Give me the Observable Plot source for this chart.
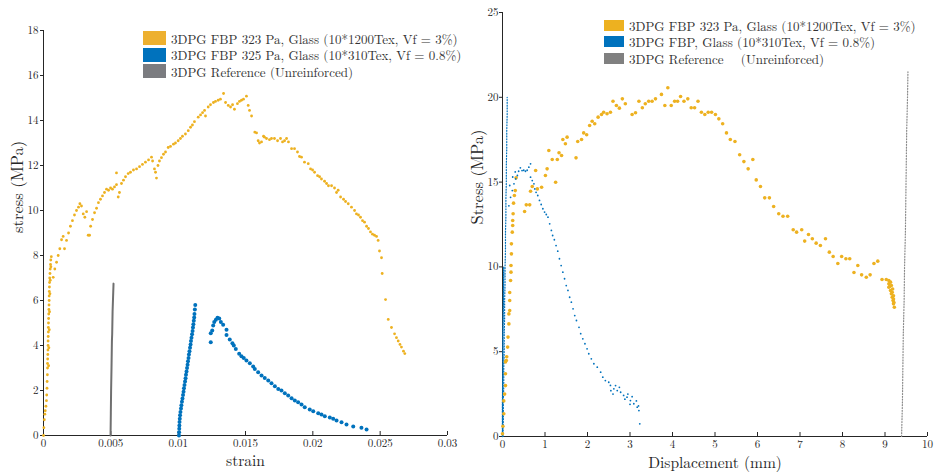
<!DOCTYPE html>
<html>
<head>
<meta charset="utf-8">
<script src="https://cdn.jsdelivr.net/npm/d3@7"></script>
<script src="https://cdn.jsdelivr.net/npm/@observablehq/plot@0.6"></script>
<style>
  html, body { margin: 0; padding: 0; background: #fff; }
  #wrap { position: relative; width: 934px; height: 474px; display: flex; }
  .panel { position: relative; width: 467px; height: 474px; }
  .panel svg { background: transparent !important; }
  .legend { position: absolute; z-index: 10; font-family: "Latin Modern Roman", "CMU Serif", "Liberation Serif", serif; font-size: 13px; line-height: 15px; color: #333; white-space: pre; }
  .legend .row { display: flex; align-items: center; height: 16.6px; }
  .legend .sw { display: inline-block; margin-right: 5px; }
</style>
</head>
<body>
<div id="wrap">
  <div class="panel" id="left"></div>
  <div class="panel" id="right"></div>
</div>
<script>
// ---------- LEFT PANEL DATA (strain, stress MPa) ----------
const leftYellow = [
  [0,0],[0.00003,0.35],[0.00006,0.7],[0.0001,0.95],[0.00013,1.1],[0.00018,1.3],[0.00022,1.55],[0.00024,1.8],
  [0.00026,2.1],[0.00027,2.4],[0.00029,2.7],[0.0003,3.0],[0.0003,3.2],[0.00031,3.4],[0.00032,3.6],[0.00033,3.8],
  [0.00034,4.0],[0.00034,4.2],[0.00035,4.4],[0.00036,4.6],[0.00036,4.8],[0.00037,5.0],[0.00038,5.2],[0.00039,5.4],
  [0.0004,5.6],[0.00041,5.8],[0.00042,6.0],[0.00042,6.2],[0.00043,6.4],[0.00044,6.6],[0.00045,6.8],[0.00046,7.0],
  [0.00048,7.2],[0.0005,7.4],[0.00052,7.6],[0.00054,7.8],[0.00058,7.95],
  [0.00038,3.1],[0.0004,3.9],[0.00043,4.7],[0.00045,5.5],[0.00048,6.3],[0.0005,6.9],[0.00055,7.5],
  [0.00072,7.03],[0.00084,7.4],[0.00097,7.7],[0.00109,8.0],[0.00121,8.3],[0.00134,8.7],[0.00146,8.85],[0.00156,8.3],
  [0.00171,8.67],[0.00186,9.0],[0.002,9.3],[0.00215,9.55],[0.0023,9.8],[0.00245,10.0],[0.0026,10.15],[0.0027,10.3],
  [0.00282,10.2],[0.00295,9.85],[0.00307,9.7],[0.0032,9.95],[0.00332,8.9],[0.00342,8.9],
  [0.0035,9.3],[0.00364,9.6],[0.00379,9.9],[0.00394,10.1],[0.00408,10.35],[0.00423,10.5],[0.00438,10.65],[0.00453,10.8],
  [0.00468,10.95],[0.00483,10.9],[0.00498,11.0],[0.00512,10.95],[0.00527,11.05],[0.00542,11.15],[0.00542,11.67],
  [0.00555,10.6],[0.00564,10.8],[0.00579,11.2],[0.00594,11.35],[0.00609,11.5],[0.00629,11.64],[0.00646,11.7],
  [0.00668,11.8],[0.00691,11.85],[0.00713,11.95],[0.00735,12.05],[0.00757,12.15],[0.0078,12.25],[0.00802,12.37],
  [0.0081,12.2],[0.00824,11.85],[0.00832,11.7],[0.00839,11.44],[0.0085,12.0],[0.00861,12.2],[0.00876,12.35],
  [0.00891,12.5],[0.00906,12.6],[0.00926,12.8],[0.00943,12.85],[0.00965,12.95],[0.0098,13.0],[0.01,13.1],
  [0.01017,13.2],[0.01032,13.3],[0.01054,13.4],[0.01075,13.55],[0.01092,13.7],[0.01106,13.8],[0.01121,13.95],
  [0.01149,14.15],[0.01166,14.25],[0.01181,14.35],[0.01196,14.45],[0.01203,14.2],[0.01223,14.6],[0.0124,14.7],
  [0.01262,14.8],[0.01277,14.85],[0.01297,14.9],[0.01314,14.95],[0.01337,15.2],[0.01352,14.8],[0.01372,14.67],
  [0.01389,14.6],[0.01404,14.7],[0.01418,14.5],[0.0144,14.75],[0.01455,14.85],[0.0147,14.9],[0.01485,14.95],
  [0.01507,15.08],[0.0152,14.67],[0.0153,14.45],[0.01545,14.2],
  [0.01569,13.48],[0.01582,13.45],[0.01594,13.1],[0.01604,13.0],[0.01619,13.05],[0.01634,13.3],[0.01641,13.26],
  [0.01656,13.2],[0.01678,13.15],[0.01693,13.2],[0.01715,13.2],[0.01738,13.1],[0.0176,13.2],[0.01775,13.05],
  [0.0179,13.1],[0.01805,13.2],[0.01819,13.05],[0.01842,12.75],[0.01864,12.75],[0.01886,12.6],[0.01901,12.4],
  [0.01916,12.37],[0.01938,12.15],[0.01966,12.08],[0.01983,11.85],[0.01998,11.8],[0.02013,11.7],[0.02035,11.55],
  [0.0205,11.5],[0.02064,11.4],[0.02087,11.3],[0.02102,11.2],[0.02116,11.1],[0.02139,11.1],[0.02161,11.0],
  [0.02176,10.8],[0.02188,10.9],[0.02206,10.6],[0.02228,10.5],[0.02243,10.4],[0.02263,10.3],[0.02287,10.15],
  [0.0231,10.0],[0.02324,9.85],[0.02339,9.8],[0.02354,9.7],[0.02369,9.55],[0.02384,9.48],[0.02399,9.3],
  [0.02413,9.2],[0.02428,9.05],[0.02443,8.95],[0.02458,8.9],[0.02473,8.85],[0.02485,8.67],[0.02495,8.2],
  [0.0251,7.9],[0.02515,7.2],[0.0254,6.04],[0.0256,5.16],[0.02584,4.8],[0.02607,4.52],[0.02621,4.35],
  [0.02634,4.2],[0.02647,4.05],[0.02658,3.93],[0.02673,3.75],[0.02683,3.64]
];
const leftBlue = [
  [0.01006,0],[0.01007,0.15],[0.01008,0.3],[0.01009,0.45],[0.0101,0.6],[0.01012,0.75],[0.01014,0.9],[0.01017,1.05],
  [0.01021,1.2],[0.01024,1.35],[0.01028,1.5],[0.01032,1.65],[0.01036,1.8],[0.0104,1.95],[0.01043,2.1],[0.01047,2.25],
  [0.01051,2.4],[0.01055,2.55],[0.01058,2.7],[0.01062,2.85],[0.01066,3.0],[0.0107,3.15],[0.01073,3.3],[0.01077,3.45],
  [0.0108,3.6],[0.01084,3.75],[0.01088,3.9],[0.01092,4.05],[0.01095,4.2],[0.01099,4.35],[0.01103,4.5],[0.01107,4.65],
  [0.0111,4.8],[0.01113,4.95],[0.01116,5.1],[0.01119,5.25],[0.01121,5.4],[0.01124,5.6],[0.01127,5.8],
  [0.01242,4.15],[0.01242,4.55],[0.01253,4.67],[0.0126,4.89],[0.01268,5.04],[0.0128,5.14],[0.01292,5.23],
  [0.01305,5.2],[0.01317,5.04],[0.01334,4.92],[0.01359,4.7],[0.01359,4.47],[0.01383,4.27],[0.01403,4.1],
  [0.01413,4.0],[0.01428,3.85],[0.01453,3.63],[0.0147,3.52],[0.01487,3.44],[0.01507,3.33],[0.01532,3.21],
  [0.01557,3.07],[0.01569,2.96],[0.01594,2.81],[0.01619,2.67],[0.01643,2.56],[0.01669,2.44],[0.01693,2.32],
  [0.01718,2.19],[0.01743,2.07],[0.01767,2.0],[0.01792,1.88],[0.01817,1.78],[0.01842,1.66],[0.01866,1.56],
  [0.01891,1.48],[0.01916,1.38],[0.0194,1.26],[0.01977,1.16],[0.02003,1.08],[0.0204,0.99],[0.02064,0.93],
  [0.02089,0.86],[0.02126,0.8],[0.02151,0.74],[0.02176,0.67],[0.02213,0.59],[0.0225,0.49],[0.023,0.4],
  [0.02361,0.34],[0.02399,0.27]
];
const leftGray = [[0.00498,0],[0.005,1],[0.00502,2],[0.00505,3],[0.00508,4.2],[0.0051,4.5],[0.00513,5.5],[0.0052,6.75]];
const leftXTicks = [0, 0.005, 0.01, 0.015, 0.02, 0.025, 0.03];
const leftYTicks = [0, 2, 4, 6, 8, 10, 12, 14, 16, 18];
const leftLegendLabels = [
  "3DPG FBP 323 Pa, Glass (10*1200Tex, Vf = 3%)",
  "3DPG FBP 325 Pa, Glass (10*310Tex, Vf = 0.8%)",
  "3DPG Reference (Unreinforced)"
];

// ---------- RIGHT PANEL DATA (displacement mm, stress MPa) ----------
const rightYellow = [
  [0,0.16],[0.01,0.6],[0.03,1.34],[0.03,2.1],[0.05,2.5],[0.07,3.0],[0.07,3.7],[0.07,4.4],[0.09,4.48],[0.1,4.7],
  [0.12,5.27],[0.13,5.86],[0.15,6.64],[0.15,7.23],[0.17,7.43],[0.17,8.02],[0.17,8.49],[0.19,9.2],[0.2,9.69],
  [0.2,10.08],[0.21,10.77],[0.21,11.36],[0.23,12.05],[0.24,12.44],[0.24,12.74],[0.25,13.13],[0.26,13.76],
  [0.28,14.21],[0.3,14.5],[0.32,15.25],[0.52,13.27],[0.56,13.66],[0.64,13.66],[0.66,14.46],[0.7,14.74],
  [0.78,15.68],[0.82,14.6],[0.92,14.7],[1.01,15.39],[1.05,15.78],[1.09,16.86],[1.17,16.33],[1.25,14.99],
  [1.29,16.33],[1.33,16.73],[1.39,16.57],[1.42,17.51],[1.48,17.26],[1.52,17.65],[1.73,16.43],[1.77,17.39],
  [1.86,17.51],[1.91,17.9],[1.98,17.79],[2.05,18.34],[2.11,18.59],[2.17,18.44],[2.25,18.83],[2.33,18.99],
  [2.38,19.12],[2.46,19.03],[2.54,19.12],[2.6,19.77],[2.68,19.52],[2.75,19.36],[2.82,19.91],[2.89,19.62],
  [3.05,18.99],[3.13,19.09],[3.21,19.77],[3.29,19.38],[3.36,19.62],[3.44,19.77],[3.52,19.77],[3.6,19.91],
  [3.74,20.17],[3.82,19.52],[3.89,20.56],[3.97,19.52],[4.05,19.77],[4.12,19.77],[4.19,20.05],[4.27,19.77],
  [4.36,19.91],[4.44,19.38],[4.52,19.38],[4.6,19.77],[4.68,19.12],[4.76,18.99],[4.84,19.12],[4.92,19.12],
  [5.01,18.99],[5.09,18.73],[5.18,18.44],[5.27,17.9],[5.36,17.51],[5.47,17.39],[5.58,16.61],[5.68,16.21],
  [5.78,15.78],[5.89,16.33],[5.97,15.13],[6.07,14.74],[6.17,14.07],[6.28,14.07],[6.38,13.56],[6.5,13.13],
  [6.6,12.99],[6.71,12.99],[6.84,12.19],[6.92,12.05],[7.04,12.19],[7.11,11.52],[7.2,11.91],[7.29,11.66],
  [7.38,11.4],[7.48,11.26],[7.6,11.66],[7.69,10.87],[7.78,10.61],[7.89,10.2],[7.98,10.61],[8.08,10.48],
  [8.17,10.48],[8.27,9.67],[8.36,10.08],[8.45,9.53],[8.56,9.39],[8.65,9.53],[8.74,10.2],[8.83,10.34],
  [8.93,9.26],[9.03,9.26],[9.09,9.2],[9.09,9.0],[9.11,8.84],[9.13,8.61],[9.15,8.41],[9.17,8.21],[9.19,8.02],
  [9.2,7.82],[9.22,7.62],[9.09,8.8],[9.15,8.9],[9.17,8.5],[9.2,8.3],[9.2,8.1],[9.13,9.1],[9.18,8.7],[9.21,7.9]
];
const rightBlue = [
  [0.19,14.1],[0.23,14.5],[0.27,14.9],[0.31,15.19],[0.35,15.39],[0.38,15.64],[0.42,15.84],[0.46,15.68],[0.5,15.7],
  [0.54,15.64],[0.58,15.7],[0.62,15.88],[0.66,16.08],[0.66,15.29],[0.7,15.09],[0.74,14.9],[0.76,14.6],[0.79,14.4],
  [0.83,14.21],[0.87,13.92],[0.91,13.68],[0.95,13.43],[0.99,13.23],[1.03,13.09],[1.07,12.93],[1.11,12.54],
  [1.15,12.15],[1.18,11.85],[1.22,11.6],[1.26,11.26],[1.3,10.93],[1.34,10.48],[1.38,10.08],[1.42,9.69],[1.46,9.3],
  [1.5,8.9],[1.54,8.61],[1.58,8.21],[1.62,7.92],[1.66,7.53],[1.7,7.13],[1.74,6.84],[1.8,6.44],[1.84,6.06],
  [1.89,5.76],[1.94,5.47],[1.99,5.17],[2.03,4.88],[2.09,4.58],[2.15,4.29],[2.23,4.09],[2.31,3.79],[2.36,3.5],
  [2.42,3.3],[2.5,3.2],[2.54,3.01],[2.62,2.81],[2.7,2.71],[2.78,2.61],[2.85,2.42],[2.93,2.32],[3.01,2.12],
  [3.09,1.93],[3.17,1.73],[3.21,1.53],[3.23,0.75],[2.6,2.5],[2.66,3.0],[2.75,2.9],[2.88,2.2],[2.95,2.5],
  [3.05,2.35],[3.15,2.1],[3.2,1.8],[3.0,1.9],[2.55,2.7],[0.15,13.6],[0.17,14.8],[0.24,15.3],[0.3,15.6]
];
const rightBlueColumn = [
  [0.01,0],[0.02,1],[0.02,2],[0.03,3],[0.03,4],[0.04,5],[0.04,6],[0.05,7],[0.05,8],[0.06,9],[0.06,10],
  [0.07,11],[0.07,12],[0.08,13],[0.08,14],[0.09,15],[0.09,16],[0.1,17],[0.1,18],[0.11,19],[0.11,20]
];
const rightBlueBase = [[0.0,0],[0.0,2],[0.01,4],[0.01,6],[0.02,8],[0.03,10]];
const rightGray = [
  [9.39,0],[9.41,2],[9.42,4],[9.43,6],[9.45,8],[9.46,10],[9.48,12],[9.49,14],[9.5,16],[9.51,18],[9.53,20],[9.54,21.5]
];
const rightXTicks = [0,1,2,3,4,5,6,7,8,9,10];
const rightYTicks = [0,5,10,15,20,25];
const rightLegendLabels = [
  "3DPG FBP 323 Pa, Glass (10*1200Tex, Vf = 3%)",
  "3DPG FBP, Glass (10*310Tex, Vf = 0.8%)",
  "3DPG Reference    (Unreinforced)"
];

const YELLOW = "#EDB120", BLUE = "#0072BD";
const FONT = '"Latin Modern Roman", "CMU Serif", "Liberation Serif", serif';
const AX = "#262626";

const left = Plot.plot({
  width: 467, height: 474,
  marginLeft: 43, marginRight: 20, marginTop: 30, marginBottom: 39,
  style: {fontFamily: FONT, fontSize: "11px", color: AX, background: "transparent", overflow: "visible"},
  x: {domain: [0, 0.03]},
  y: {domain: [0, 18]},
  marks: [
    Plot.axisY(leftYTicks, {tickSize: 3, tickPadding: 2, label: null, fontSize: 11}),
    Plot.axisX(leftXTicks, {tickSize: 0, tickPadding: 4, label: null, fontSize: 11, tickFormat: d => String(d)}),
    Plot.tickX(leftXTicks, {x: d => d, insetTop: 401, stroke: AX}),
    Plot.ruleX([0], {stroke: AX}),
    Plot.ruleY([0], {stroke: AX}),
    Plot.line(leftGray, {x: d => d[0], y: d => d[1], stroke: "#707070", strokeWidth: 2}),
    Plot.dot(leftYellow, {x: d => d[0], y: d => d[1], r: 1.4, fill: YELLOW}),
    Plot.dot(leftBlue, {x: d => d[0], y: d => d[1], r: 2, fill: BLUE}),
    Plot.text(["stress (MPa)"], {frameAnchor: "left", lineAnchor: "middle", dx: -26, rotate: -90, fontSize: 16.5, fill: AX}),
    Plot.text(["strain"], {frameAnchor: "bottom", lineAnchor: "middle", dy: 26, fontSize: 15.5, fill: AX})
  ]
});
document.getElementById("left").appendChild(left);

const right = Plot.plot({
  width: 467, height: 474,
  marginLeft: 35, marginRight: 7, marginTop: 12, marginBottom: 38,
  style: {fontFamily: FONT, fontSize: "11px", color: AX, background: "transparent", overflow: "visible"},
  x: {domain: [0, 10]},
  y: {domain: [0, 25]},
  marks: [
    Plot.axisY(rightYTicks, {tickSize: 3, tickPadding: 1, label: null, fontSize: 11}),
    Plot.axisX(rightXTicks, {tickSize: 0, tickPadding: 4, label: null, fontSize: 11, tickFormat: d => String(d)}),
    Plot.tickX(rightXTicks, {x: d => d, insetTop: 420, stroke: AX}),
    Plot.ruleX([0], {stroke: AX}),
    Plot.ruleY([0], {stroke: AX}),
    Plot.line(rightGray, {x: d => d[0], y: d => d[1], stroke: "#8a8a8a", strokeWidth: 1.2, strokeDasharray: "1,1.8"}),
    Plot.line(rightBlueColumn, {x: d => d[0], y: d => d[1], stroke: BLUE, strokeWidth: 1.2, strokeDasharray: "1,1.8"}),
    Plot.line(rightBlueBase, {x: d => d[0], y: d => d[1], stroke: BLUE, strokeWidth: 1.4, strokeDasharray: "1.2,1.2"}),
    Plot.dot(rightYellow, {x: d => d[0], y: d => d[1], r: 1.8, fill: YELLOW}),
    Plot.dot(rightBlue, {x: d => d[0], y: d => d[1], r: 0.9, fill: BLUE}),
    Plot.text(["Stress (MPa)"], {frameAnchor: "left", lineAnchor: "middle", dx: -25, rotate: -90, fontSize: 16.5, fill: AX}),
    Plot.text(["Displacement (mm)"], {frameAnchor: "bottom", lineAnchor: "middle", dy: 27, fontSize: 15.5, fill: AX})
  ]
});
document.getElementById("right").appendChild(right);

function legend(container, labels, colors, x, y, sw) {
  const div = document.createElement("div");
  div.className = "legend";
  div.style.left = x + "px";
  div.style.top = y + "px";
  labels.forEach((t, i) => {
    const row = document.createElement("div");
    row.className = "row";
    const s = document.createElement("span");
    s.className = "sw";
    s.style.width = sw[0] + "px";
    s.style.height = sw[1] + "px";
    s.style.background = colors[i];
    const tx = document.createElement("span");
    tx.textContent = t;
    row.appendChild(s); row.appendChild(tx);
    div.appendChild(row);
  });
  document.getElementById(container).appendChild(div);
}
legend("left", leftLegendLabels, ["#EDB02F", BLUE, "#7b7c80"], 143, 30, [23, 14]);
legend("right", rightLegendLabels, [YELLOW, BLUE, "#808080"], 137, 17, [20, 11]);
</script>
</body>
</html>
